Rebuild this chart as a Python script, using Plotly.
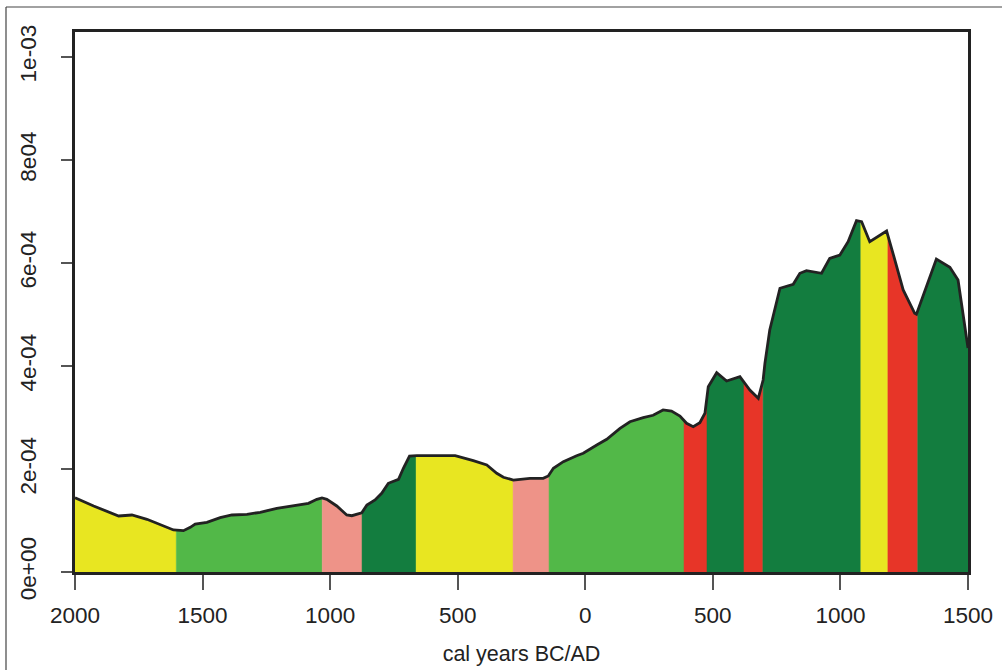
import numpy as np
import plotly.graph_objects as go

# Summed probability curve: calendar year (BC negative) and density
years = [-2000, -1927, -1829, -1777, -1718, -1666, -1614, -1575, -1548, -1529,
         -1483, -1431, -1385, -1326, -1274, -1209, -1144, -1085, -1052, -1032,
         -1013, -974, -935, -915, -876, -856, -824, -798, -772, -732,
         -713, -689, -660, -510, -439, -386, -347, -321, -282, -217,
         -165, -145, -125, -86, -34, -8, 45, 84, 136, 175,
         227, 266, 305, 338, 371, 397, 423, 449, 469, 482,
         515, 554, 606, 645, 678, 697, 704, 723, 763, 815,
         841, 867, 926, 958, 998, 1030, 1063, 1083, 1115, 1181,
         1206, 1246, 1291, 1298, 1376, 1429, 1461, 1481, 1498, 1500]
density_e4 = [1.443, 1.282, 1.087, 1.107, 1.023, 0.913, 0.816, 0.802, 0.868, 0.932,
              0.965, 1.054, 1.107, 1.120, 1.159, 1.237, 1.287, 1.334, 1.412, 1.437,
              1.412, 1.282, 1.107, 1.093, 1.151, 1.301, 1.398, 1.528, 1.722, 1.800,
              2.014, 2.252, 2.258, 2.258, 2.161, 2.078, 1.917, 1.839, 1.786, 1.819,
              1.819, 1.864, 2.014, 2.142, 2.258, 2.305, 2.466, 2.577, 2.790, 2.918,
              2.996, 3.043, 3.146, 3.126, 3.029, 2.887, 2.821, 2.899, 3.082, 3.598,
              3.870, 3.709, 3.792, 3.534, 3.373, 3.728, 4.052, 4.699, 5.509, 5.586,
              5.800, 5.850, 5.800, 6.091, 6.155, 6.414, 6.821, 6.802, 6.414, 6.621,
              6.188, 5.476, 5.023, 5.004, 6.078, 5.917, 5.670, 5.023, 4.408, 4.350]
density = [v * 1e-4 for v in density_e4]

# Coloured phases: boundaries (years) and colours
phase_edges = [-2000, -1603, -1031, -875, -663, -283, -142, 387, 477, 622, 696, 1080, 1186, 1303, 1500]
phase_colors = ["#E8E621", "#52B848", "#EE9388", "#137D3F", "#E8E621", "#EE9388", "#52B848",
                "#E73528", "#137D3F", "#E73528", "#137D3F", "#E8E621", "#E73528", "#137D3F"]

x_tickvals = [-2000, -1500, -1000, -500, 0, 500, 1000, 1500]
x_ticktext = ["2000", "1500", "1000", "500", "0", "500", "1000", "1500"]
y_tickvals = [0, 2e-4, 4e-4, 6e-4, 8e-4, 1e-3]
y_ticktext = ["0e+00", "2e-04", "4e-04", "6e-04", "8e04", "1e-03"]

xa = np.array(years, dtype=float)
ya = np.array(density, dtype=float)

fig = go.Figure()
for i, col in enumerate(phase_colors):
    a, b = phase_edges[i], phase_edges[i + 1]
    mask = (xa > a) & (xa < b)
    sx = np.concatenate([[a], xa[mask], [b]])
    sy = np.concatenate([[np.interp(a, xa, ya)], ya[mask], [np.interp(b, xa, ya)]])
    px_ = np.concatenate([[a], sx, [b]])
    py_ = np.concatenate([[0], sy, [0]])
    fig.add_trace(go.Scatter(x=px_, y=py_, mode="lines", fill="toself",
                             fillcolor=col, line=dict(width=0.5, color=col),
                             hoverinfo="skip", showlegend=False))

fig.add_trace(go.Scatter(x=years, y=density, mode="lines",
                         line=dict(color="#222222", width=2.8),
                         showlegend=False))

font = "Liberation Sans, Arial, sans-serif"
fig.update_layout(
    width=1002, height=670,
    margin=dict(l=75, r=34, t=32, b=98),
    paper_bgcolor="white", plot_bgcolor="white",
    font=dict(family=font, size=22.5, color="#222222"),
    xaxis=dict(range=[-2000, 1500], tickvals=x_tickvals, ticktext=x_ticktext,
               automargin=False,
               showgrid=False, zeroline=False, showline=True, mirror=True,
               linecolor="#222222", linewidth=2.8,
               ticks="outside", ticklen=15, tickwidth=1.5, tickcolor="#555555",
               ticklabelstandoff=6,
               tickfont=dict(size=22.5, family=font, color="#222222"),
               title=dict(text="cal years BC/AD", font=dict(size=21.5, family=font, color="#222222"),
                          standoff=20)),
    yaxis=dict(range=[0, 1.0485e-3], tickvals=y_tickvals, ticktext=y_ticktext,
               automargin=False,
               showgrid=False, zeroline=False, showline=True, mirror=True,
               linecolor="#222222", linewidth=2.8,
               ticks="outside", ticklen=11, tickwidth=1.5, tickcolor="#555555",
               tickangle=-90, ticklabelstandoff=16,
               tickfont=dict(size=22.5, family=font, color="#222222")),
    shapes=[dict(type="line", xref="paper", yref="paper",
                 x0=(6 - 75) / 893, x1=(6 - 75) / 893, y0=(572 - 7) / 540, y1=-0.3,
                 line=dict(color="#444444", width=1.2)),
            dict(type="line", xref="paper", yref="paper",
                 x0=(6 - 75) / 893, x1=1.1, y0=(572 - 7) / 540, y1=(572 - 7) / 540,
                 line=dict(color="#444444", width=1.2))],
)

fig.write_html("out.html", config={"displayModeBar": False},
               post_script="document.body.style.margin='0';")
